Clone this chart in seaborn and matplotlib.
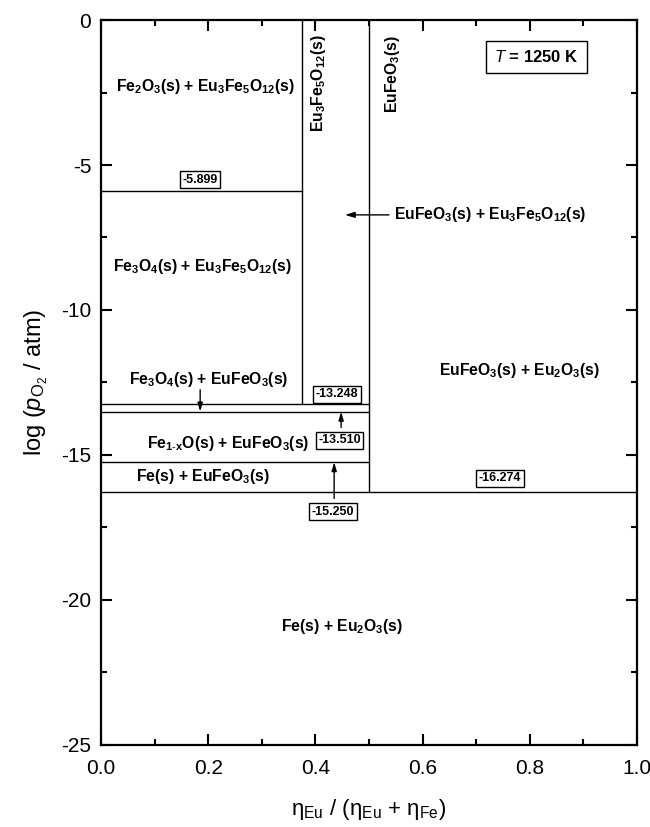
import numpy as np
import pandas as pd
import matplotlib
matplotlib.use("Agg")
import matplotlib.pyplot as plt
import seaborn as sns

# ~~~~~~~~~~~~~~~~~~~~~~~~~~~~~~~~~~~~~~~~~~~~~~~~~~~~~~~~~~~~~~~~~~~~~~~~
# Phase boundaries (T = 1250 K)
x_garnet = 0.375        # Eu3Fe5O12
x_perov = 0.5           # EuFeO3
garnet_top, garnet_bottom = 0.0, -13.248
perov_top, perov_bottom = 0.0, -16.274

h_levels = [-5.899, -13.248, -13.510, -15.250, -16.274]
h_xend = [0.375, 0.5, 0.5, 0.5, 1.0]

# boxed values: text, box position, arrow target (None = no arrow)
box_text = ["-5.899", "-13.248", "-13.510", "-15.250", "-16.274"]
box_x = [0.185, 0.44, 0.445, 0.433, 0.744]
box_y = [-5.5, -12.9, -14.5, -16.95, -15.8]
box_arrow = [None, None, (0.448, -13.51), (0.435, -15.25), None]

# region labels
region_text = [
    r"Fe$_\mathbf{2}$O$_\mathbf{3}$(s) + Eu$_\mathbf{3}$Fe$_\mathbf{5}$O$_\mathbf{12}$(s)",
    r"Fe$_\mathbf{3}$O$_\mathbf{4}$(s) + Eu$_\mathbf{3}$Fe$_\mathbf{5}$O$_\mathbf{12}$(s)",
    r"Fe$_\mathbf{3}$O$_\mathbf{4}$(s) + EuFeO$_\mathbf{3}$(s)",
    r"Fe$_\mathbf{1\text{-}x}$O(s) + EuFeO$_\mathbf{3}$(s)",
    r"Fe(s) + EuFeO$_\mathbf{3}$(s)",
    r"EuFeO$_\mathbf{3}$(s) + Eu$_\mathbf{2}$O$_\mathbf{3}$(s)",
    r"Fe(s) + Eu$_\mathbf{2}$O$_\mathbf{3}$(s)",
]
region_x = [0.194, 0.19, 0.2, 0.237, 0.19, 0.78, 0.45]
region_y = [-2.3, -8.5, -12.4, -14.6, -15.75, -12.07, -20.9]

# ~~~~~~~~~~~~~~~~~~~~~~~~~~~~~~~~~~~~~~~~~~~~~~~~~~~~~~~~~~~~~~~~~~~~~~~~
sns.set_style("ticks")
plt.rcParams['font.family'] = ['Liberation Sans', 'DejaVu Sans']
plt.rcParams['mathtext.fontset'] = 'custom'
plt.rcParams['mathtext.rm'] = 'Liberation Sans'
plt.rcParams['mathtext.it'] = 'Liberation Sans:italic'
plt.rcParams['mathtext.bf'] = 'Liberation Sans:bold'
for k in ['axes.edgecolor', 'xtick.color', 'ytick.color', 'text.color',
          'axes.labelcolor']:
    plt.rcParams[k] = 'black'

# all boundary segments in one long table
rows = []
rows += [(x_garnet, garnet_top, "v1"), (x_garnet, garnet_bottom, "v1")]
rows += [(x_perov, perov_top, "v2"), (x_perov, perov_bottom, "v2")]
for i, (lv, xe) in enumerate(zip(h_levels, h_xend)):
    rows += [(0.0, lv, f"h{i}"), (xe, lv, f"h{i}")]
seg_df = pd.DataFrame(rows, columns=["x", "y", "seg"])

fig = plt.figure(figsize=(6.5, 8.27), dpi=100)
ax = fig.add_axes([0.1554, 0.0992, 0.8246, 0.8766])

sns.lineplot(data=seg_df, x="x", y="y", units="seg", estimator=None,
             color="black", lw=1.0, sort=False, ax=ax, legend=False)

ax.set_xlim(0, 1)
ax.set_ylim(-25, 0)
ax.set_xticks(np.arange(0, 1.01, 0.2))
ax.set_xticks(np.arange(0.1, 1.0, 0.2), minor=True)
ax.set_yticks(np.arange(-25, 0.1, 5))
ax.set_yticks(np.arange(-22.5, 0, 5), minor=True)
ax.set_xticklabels([f"{v:.1f}" for v in np.arange(0, 1.01, 0.2)])
ax.set_yticklabels([f"{v:d}" for v in range(-25, 1, 5)])
ax.tick_params(which="both", direction="in", top=True, right=True,
               width=1.5, labelsize=15)
ax.tick_params(which="major", length=8)
ax.tick_params(which="minor", length=4)
ax.tick_params(axis="x", pad=10)
ax.tick_params(axis="y", pad=7)
for s in ax.spines.values():
    s.set_linewidth(1.6)

ax.set_xlabel(r"$\mathrm{\eta}_{\rm Eu}$ / ($\mathrm{\eta}_{\rm Eu}$ + $\mathrm{\eta}_{\rm Fe}$)",
              fontsize=16, labelpad=14)
ax.set_ylabel(r"log ($p_{\rm O_2}$ / atm)", fontsize=17, labelpad=8)

# region labels
for t, xx, yy in zip(region_text, region_x, region_y):
    ax.text(xx, yy, t, ha="center", va="center", fontsize=11.3, fontweight="bold")

# vertical compound labels
ax.text(0.405, -0.5, r"Eu$_\mathbf{3}$Fe$_\mathbf{5}$O$_\mathbf{12}$(s)", rotation=90,
        ha="center", va="top", fontsize=11.3, fontweight="bold")
ax.text(0.543, -0.5, r"EuFeO$_\mathbf{3}$(s)", rotation=90,
        ha="center", va="top", fontsize=11.3, fontweight="bold")

# EuFeO3 + Eu3Fe5O12 narrow field, arrow pointing into it
ax.annotate(r"EuFeO$_\mathbf{3}$(s) + Eu$_\mathbf{3}$Fe$_\mathbf{5}$O$_\mathbf{12}$(s)",
            xy=(0.455, -6.72), xytext=(0.546, -6.72), ha="left", va="center",
            fontsize=11.3, fontweight="bold",
            arrowprops=dict(arrowstyle="-|>,head_length=0.5,head_width=0.15",
                            color="black", lw=1, shrinkA=1, shrinkB=0))

# arrow for the thin Fe3O4 + EuFeO3 field
ax.annotate("", xy=(0.185, -13.5), xytext=(0.185, -12.75),
            arrowprops=dict(arrowstyle="-|>,head_length=0.5,head_width=0.15",
                            color="black", lw=1, shrinkA=0, shrinkB=0))

# boxed boundary values
for t, xx, yy, arr in zip(box_text, box_x, box_y, box_arrow):
    ax.text(xx, yy, t, ha="center", va="center", fontsize=9, fontweight="bold",
            bbox=dict(boxstyle="square,pad=0.2", fc="white", ec="black", lw=1))
    if arr is not None:
        ax.annotate("", xy=arr, xytext=(arr[0], yy + 0.45),
                    arrowprops=dict(arrowstyle="-|>,head_length=0.5,head_width=0.15",
                                    color="black", lw=1, shrinkA=0, shrinkB=0))

ax.text(0.813, -1.27, r"$\mathit{T}$ = 1250 K", ha="center", va="center",
        fontsize=12, fontweight="bold",
        bbox=dict(boxstyle="square,pad=0.5", fc="white", ec="black", lw=1))

fig.savefig("out.png", dpi=100)
